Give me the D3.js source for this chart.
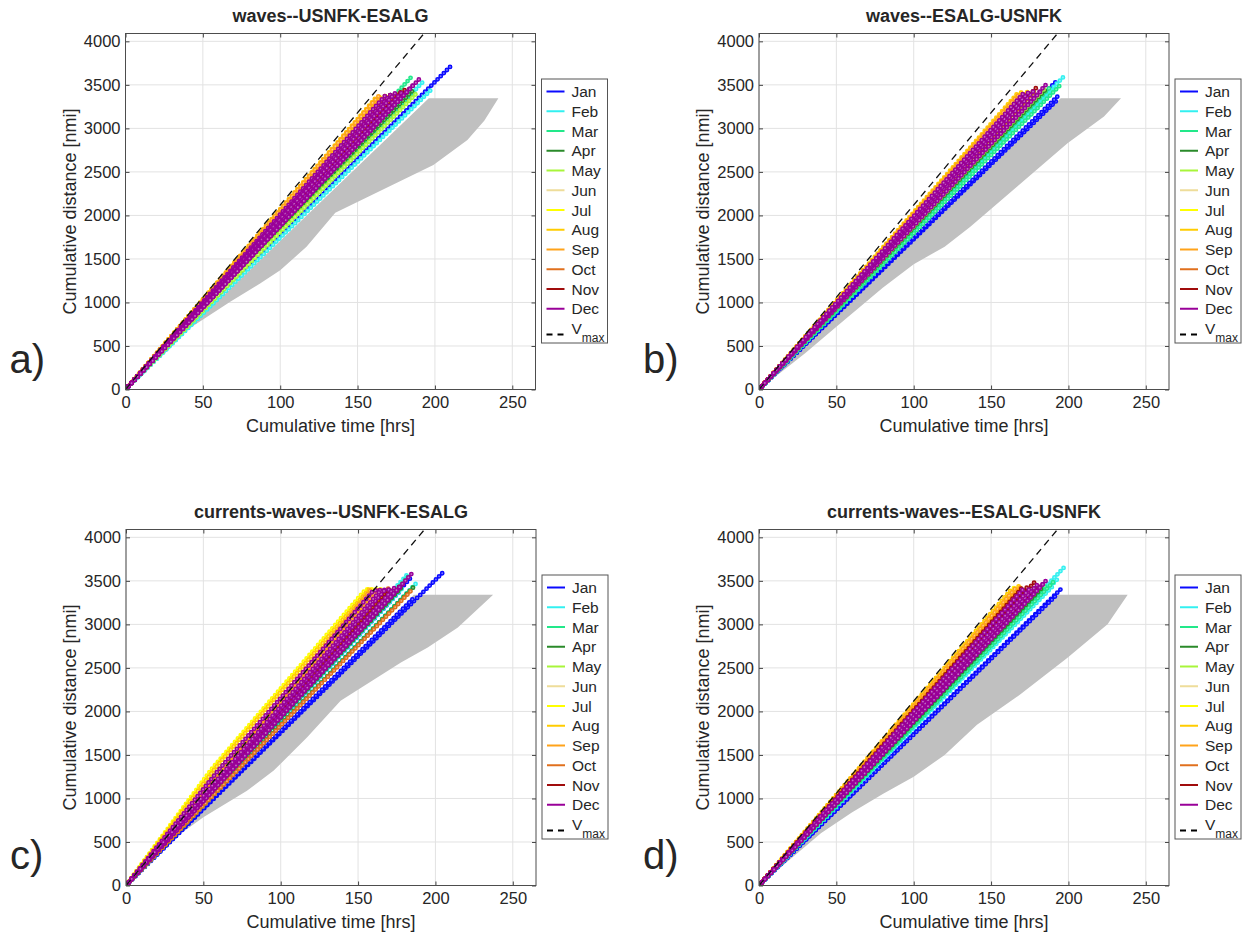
<!DOCTYPE html>
<html>
<head>
<meta charset="utf-8">
<script src="https://cdn.jsdelivr.net/npm/d3@7"></script>
<style>
body { margin: 0; background: #fff; }
text { font-family: "Liberation Sans", Arial, sans-serif; fill: #262626; }
</style>
</head>
<body>
<div id="chart"></div>
<script>
const months = ['Jan', 'Feb', 'Mar', 'Apr', 'May', 'Jun', 'Jul', 'Aug', 'Sep', 'Oct', 'Nov', 'Dec'];
const monthColors = ['#0a0aff', '#33f0f0', '#22e88a', '#2a8a2a', '#a8f53a', '#eedd9a',
	'#ffff00', '#ffcc00', '#ffa31a', '#e0701e', '#a00c0c', '#990099'];
const xTicks = [0, 50, 100, 150, 200, 250];
const yTicks = [0, 500, 1000, 1500, 2000, 2500, 3000, 3500, 4000];
const xDomain = [0, 265];
const yDomain = [0, 4090];
const vmaxLine = [[0, 0], [200, 4240]];

// each track: end point [hrs, nmi] (start is origin), or a few vertices flattened
const titleA = 'waves--USNFK-ESALG';
const tracksA = [
	[[210, 3710], [172, 3395], [182, 3410], [186, 3380]],
	[[197.5, 3443], [192, 3530], [185, 3440]],
	[[184.6, 3588], [188, 3420], [178, 3410]],
	[[186, 3440], [180, 3420], [170, 3390]],
	[[188, 3400], [178, 3400], [168, 3380]],
	[[166, 3370], [172, 3400]],
	[[163, 3360], [170, 3390]],
	[[162, 3355], [165, 3378], [168, 3375]],
	[[164, 3380], [167, 3370], [172, 3390]],
	[[170, 3400], [176, 3410]],
	[[172, 3400], [178, 3420], [184.6, 3473], [181, 3450]],
	[[169, 3400], [172, 3400], [175, 3420], [180, 3440], [186, 3500], [190, 3569], [183, 3440]]
];
const greyA = [[0, 0], [196, 3345], [241, 3345], [232, 3090], [221, 2866], [199, 2578], [135.6, 2030],
	[117, 1639], [100, 1371], [87, 1218], [67.7, 1007], [39.7, 683], [0, 0]];

const titleB = 'waves--ESALG-USNFK';
const tracksB = [
	[[193, 3330], [194, 3385], [192, 3538], [186.4, 3423]],
	[[197, 3595], [190, 3420], [186, 3380], [192, 3470]],
	[[196, 3520], [188, 3470], [182, 3410]],
	[[185, 3440], [178, 3420]],
	[[184, 3450], [176, 3400]],
	[[170, 3420], [173, 3400]],
	[[168, 3400], [172, 3410]],
	[[167, 3400], [170, 3423], [174, 3430]],
	[[168, 3390], [172, 3420], [176, 3410]],
	[[174, 3400], [178, 3420]],
	[[180.3, 3489], [176, 3420], [172, 3400]],
	[[186.4, 3519], [182, 3423], [178, 3440], [174, 3410], [171, 3405]]
];
const greyB = [[0, 0], [195, 3347], [234, 3347], [223, 3136], [199.4, 2830], [166.9, 2331], [136.6, 1871],
	[120, 1640], [100, 1440], [80, 1170], [50, 720], [30, 420], [0, 0]];

const titleC = 'currents-waves--USNFK-ESALG';
const tracksC = [
	[[204.8, 3595], [186.4, 3310], [184.2, 3538], [178, 3400]],
	[[182, 3576], [188, 3480], [180, 3440]],
	[[186.4, 3443], [183, 3560], [176, 3430]],
	[[187, 3450], [178, 3420], [170, 3400]],
	[[40, 950, 168, 3400], [175, 3410]],
	[[160, 3400], [165, 3405]],
	[[55, 1330, 155, 3403, 164.7, 3403], [160, 3390]],
	[[60, 1400, 157, 3400], [162, 3395]],
	[[158, 3390], [163, 3400]],
	[[185, 3400], [170, 3420]],
	[[172, 3410], [177, 3440], [168, 3400]],
	[[60, 1330, 160, 3390, 171, 3400], [174, 3430], [180, 3480], [185.3, 3595], [168, 3410], [165, 3400]]
];
const greyC = [[0, 0], [186, 3339], [237.3, 3339], [214.5, 2963], [195, 2733], [177.7, 2561], [138.7, 2123],
	[117.1, 1703], [95.5, 1320], [78.2, 1090], [50, 783], [35, 592], [17.5, 323], [0, 0]];

const titleD = 'currents-waves--ESALG-USNFK';
const tracksD = [
	[[195, 3403], [191.7, 3327], [188, 3460], [185, 3380]],
	[[197.1, 3653], [193.9, 3538], [190, 3440], [186, 3420]],
	[[192, 3520], [186, 3460], [180, 3420]],
	[[184, 3440], [178, 3420]],
	[[180, 3430], [172, 3420]],
	[[168, 3430]],
	[[165, 3420], [168, 3430]],
	[[164, 3420], [168, 3440], [172, 3430]],
	[[166, 3420], [170, 3443], [174, 3420]],
	[[172, 3410], [176, 3420]],
	[[178.8, 3500], [174, 3440], [170, 3420], [182, 3460]],
	[[186.4, 3519], [180, 3460], [176, 3430], [172, 3430], [184, 3470]]
];
const greyD = [[0, 0], [193, 3339], [238.3, 3339], [225.3, 3001], [199.4, 2618], [169, 2197], [140.9, 1848],
	[120, 1500], [100, 1250], [80, 1050], [60, 840], [40, 600], [20, 300], [0, 0]];

const plotW = 410;
const plotH = 356;

var svg = d3.select('#chart')
	.append('svg')
	.attr('width', 1245)
	.attr('height', 937);

var panels = [
	{letter: 'a)', title: titleA, tracks: tracksA, grey: greyA, left: 125.5, top: 33.5},
	{letter: 'b)', title: titleB, tracks: tracksB, grey: greyB, left: 759, top: 33.5},
	{letter: 'c)', title: titleC, tracks: tracksC, grey: greyC, left: 126, top: 529.5},
	{letter: 'd)', title: titleD, tracks: tracksD, grey: greyD, left: 759, top: 529.5}
];

panels.forEach(drawPanel);

function toPoints(t) {
	var pts = [[0, 0]];
	for (let i = 0; i < t.length; i += 2) pts.push([t[i], t[i + 1]]);
	return pts;
}

function drawPanel(p, k) {
	var x = d3.scaleLinear().domain(xDomain).range([p.left, p.left + plotW]);
	var y = d3.scaleLinear().domain(yDomain).range([p.top + plotH, p.top]);
	var line = d3.line().x(d => x(d[0])).y(d => y(d[1]));

	svg.append('clipPath')
		.attr('id', 'clip' + k)
		.append('rect')
		.attr('x', p.left).attr('y', p.top)
		.attr('width', plotW).attr('height', plotH);

	var g = svg.append('g');

	// grid
	g.append('g')
		.selectAll('line')
		.data(xTicks)
		.join('line')
		.attr('x1', d => x(d)).attr('x2', d => x(d))
		.attr('y1', p.top).attr('y2', p.top + plotH)
		.attr('stroke', '#e2e2e2');
	g.append('g')
		.selectAll('line')
		.data(yTicks)
		.join('line')
		.attr('y1', d => y(d)).attr('y2', d => y(d))
		.attr('x1', p.left).attr('x2', p.left + plotW)
		.attr('stroke', '#e2e2e2');

	var plot = g.append('g').attr('clip-path', `url(#clip${k})`);

	plot.append('path')
		.attr('d', line(p.grey) + 'Z')
		.attr('fill', '#c0c0c0');

	// hollow-ish circle markers along each track: coloured dot, then pale centre
	p.tracks.forEach((monthTracks, m) => {
		var mg = plot.append('g');
		monthTracks.forEach(t => {
			mg.append('path')
				.attr('d', line(toPoints(t)))
				.attr('fill', 'none')
				.attr('stroke', monthColors[m])
				.attr('stroke-width', 4.8)
				.attr('stroke-linecap', 'round')
				.attr('stroke-dasharray', '0 4.4');
			mg.append('path')
				.attr('d', line(toPoints(t)))
				.attr('fill', 'none')
				.attr('stroke', '#fff')
				.attr('stroke-opacity', 0.45)
				.attr('stroke-width', 1.8)
				.attr('stroke-linecap', 'round')
				.attr('stroke-dasharray', '0 4.4');
		});
	});

	plot.append('path')
		.attr('d', line(vmaxLine))
		.attr('fill', 'none')
		.attr('stroke', '#111')
		.attr('stroke-width', 1.3)
		.attr('stroke-dasharray', '7 5');

	// axes
	var fmt = d3.format('d');
	var xAxis = d3.axisBottom(x).tickValues(xTicks).tickFormat(fmt).tickSizeInner(-4).tickSizeOuter(0).tickPadding(7);
	var yAxis = d3.axisLeft(y).tickValues(yTicks).tickFormat(fmt).tickSizeInner(-4).tickSizeOuter(0).tickPadding(5);
	var ax = g.append('g').attr('transform', `translate(0,${p.top + plotH})`).call(xAxis);
	var ay = g.append('g').attr('transform', `translate(${p.left},0)`).call(yAxis);
	var at = g.append('g').attr('transform', `translate(0,${p.top})`)
		.call(d3.axisTop(x).tickValues(xTicks).tickSizeInner(-4).tickSizeOuter(0).tickFormat(''));
	var ar = g.append('g').attr('transform', `translate(${p.left + plotW},0)`)
		.call(d3.axisRight(y).tickValues(yTicks).tickSizeInner(-4).tickSizeOuter(0).tickFormat(''));
	[ax, ay, at, ar].forEach(a => {
		a.select('.domain').remove();
		a.selectAll('line').attr('stroke', '#444');
		a.selectAll('text')
			.attr('font-family', '"Liberation Sans", Arial, sans-serif')
			.attr('font-size', 16.5)
			.attr('fill', '#262626');
	});

	g.append('rect')
		.attr('x', p.left).attr('y', p.top)
		.attr('width', plotW).attr('height', plotH)
		.attr('fill', 'none')
		.attr('stroke', '#4d4d4d');

	g.append('text')
		.attr('x', p.left + plotW / 2)
		.attr('y', p.top + plotH + 42)
		.attr('text-anchor', 'middle')
		.attr('font-size', 18)
		.text('Cumulative time [hrs]');

	g.append('text')
		.attr('transform', `translate(${p.left - 50},${p.top + plotH / 2}) rotate(-90)`)
		.attr('text-anchor', 'middle')
		.attr('font-size', 18)
		.text('Cumulative distance [nmi]');

	g.append('text')
		.attr('x', p.left + plotW / 2)
		.attr('y', p.top - 12)
		.attr('text-anchor', 'middle')
		.attr('font-size', 18)
		.attr('font-weight', 'bold')
		.attr('fill', '#000')
		.text(p.title);

	g.append('text')
		.attr('x', p.left - 116)
		.attr('y', p.top + 339)
		.attr('font-family', 'Lato, "Open Sans", sans-serif')
		.attr('font-size', 40)
		.attr('fill', '#000')
		.text(p.letter);

	drawLegend(g, p.left + plotW + 6, p.top + 45.5);
}

function drawLegend(g, lx, ly) {
	const rowH = 19.75;
	var lg = g.append('g').attr('transform', `translate(${lx},${ly})`);
	lg.append('rect')
		.attr('width', 66).attr('height', 264)
		.attr('fill', '#fff')
		.attr('stroke', '#555');

	var rows = lg.selectAll('g')
		.data(months)
		.join('g')
		.attr('transform', (d, i) => `translate(0,${12.5 + i * rowH})`);
	rows.append('line')
		.attr('x1', 5).attr('x2', 23)
		.attr('stroke', (d, i) => monthColors[i])
		.attr('stroke-width', 2);
	rows.append('text')
		.attr('x', 30).attr('y', 5.5)
		.attr('font-size', 15.5)
		.attr('fill', '#000')
		.text(d => d);

	var vrow = lg.append('g').attr('transform', `translate(0,${12.5 + 12 * rowH + 6})`);
	vrow.append('line')
		.attr('x1', 5).attr('x2', 23)
		.attr('stroke', '#000')
		.attr('stroke-width', 2)
		.attr('stroke-dasharray', '6 5');
	var vt = vrow.append('text')
		.attr('x', 30).attr('y', -1)
		.attr('font-size', 15.5)
		.attr('fill', '#000');
	vt.append('tspan').text('V');
	vt.append('tspan').attr('dy', 8).attr('font-size', 12).text('max');
}
</script>
</body>
</html>
